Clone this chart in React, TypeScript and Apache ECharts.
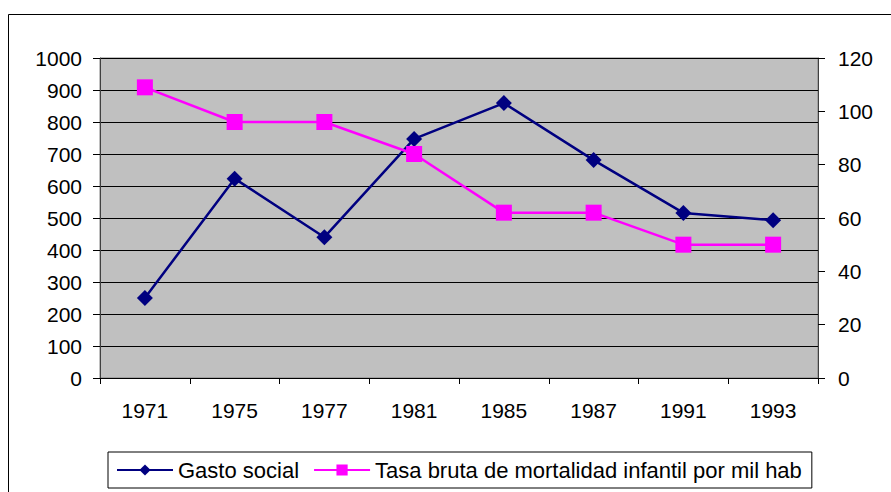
import React, { useEffect, useRef } from "react";
import * as echarts from "echarts";

const categories = ["1971", "1975", "1977", "1981", "1985", "1987", "1991", "1993"];
const gastoSocial = [250, 623, 440, 747, 859, 681, 516, 493];
const tasaMortalidad = [109, 96, 96, 84, 62, 62, 50, 50];
const seriesNames = ["Gasto social", "Tasa bruta de mortalidad infantil por mil hab"];

const FONT = "Liberation Sans, Arial, sans-serif";

export default function App() {
  const ref = useRef<HTMLDivElement>(null);
  useEffect(() => {
    if (!ref.current) return;
    const chart = echarts.init(ref.current, undefined, { renderer: "svg" });
    chart.setOption({
      animation: false,
      backgroundColor: "#ffffff",
      textStyle: { fontFamily: FONT },
      graphic: [
        {
          type: "rect",
          shape: { x: 8.5, y: 14.5, width: 1000, height: 1000 },
          style: { fill: "none", stroke: "#000000", lineWidth: 1 },
          silent: true,
          z: -1,
        },
      ],
      grid: {
        left: 100,
        top: 58,
        width: 718,
        height: 320,
        show: true,
        backgroundColor: "#C0C0C0",
        borderColor: "#808080",
        borderWidth: 1,
      },
      legend: {
        left: 108,
        top: 452,
        padding: [7, 10, 7, 8],
        borderColor: "#000000",
        borderWidth: 1,
        backgroundColor: "#ffffff",
        borderRadius: 0,
        itemWidth: 56,
        itemHeight: 14,
        itemGap: 14,
        textStyle: { fontSize: 22, color: "#000000", fontFamily: FONT },
        data: seriesNames,
      },
      xAxis: {
        type: "category",
        data: categories,
        boundaryGap: true,
        axisLine: { show: true, lineStyle: { color: "#000000", width: 1 } },
        axisTick: { show: true, length: 6, lineStyle: { color: "#000000" } },
        axisLabel: { fontSize: 21, color: "#000000", margin: 22, fontFamily: FONT },
        splitLine: { show: false },
      },
      yAxis: [
        {
          type: "value",
          min: 0,
          max: 1000,
          interval: 100,
          position: "left",
          axisLine: { show: true, lineStyle: { color: "#404040", width: 1 } },
          axisTick: { show: true, length: 7, lineStyle: { color: "#000000" } },
          axisLabel: {
            fontSize: 21,
            color: "#000000",
            margin: 18,
            fontFamily: FONT,
            formatter: (v: number) => String(v),
          },
          splitLine: { show: true, lineStyle: { color: "#000000", width: 1 } },
        },
        {
          type: "value",
          min: 0,
          max: 120,
          interval: 20,
          position: "right",
          axisLine: { show: true, lineStyle: { color: "#404040", width: 1 } },
          axisTick: { show: true, length: 7, lineStyle: { color: "#000000" } },
          axisLabel: {
            fontSize: 21,
            color: "#000000",
            margin: 20,
            fontFamily: FONT,
            formatter: (v: number) => String(v),
          },
          splitLine: { show: false },
        },
      ],
      series: [
        {
          name: seriesNames[0],
          type: "line",
          yAxisIndex: 0,
          data: gastoSocial,
          symbol: "diamond",
          symbolSize: 16,
          lineStyle: { color: "#000080", width: 2.5 },
          itemStyle: { color: "#000080" },
        },
        {
          name: seriesNames[1],
          type: "line",
          yAxisIndex: 1,
          data: tasaMortalidad,
          symbol: "rect",
          symbolSize: 16,
          lineStyle: { color: "#FF00FF", width: 2.5 },
          itemStyle: { color: "#FF00FF" },
        },
      ],
    });
    return () => chart.dispose();
  }, []);
  return <div ref={ref} style={{ width: 891, height: 492, position: "absolute", left: 0, top: 0 }} />;
}
